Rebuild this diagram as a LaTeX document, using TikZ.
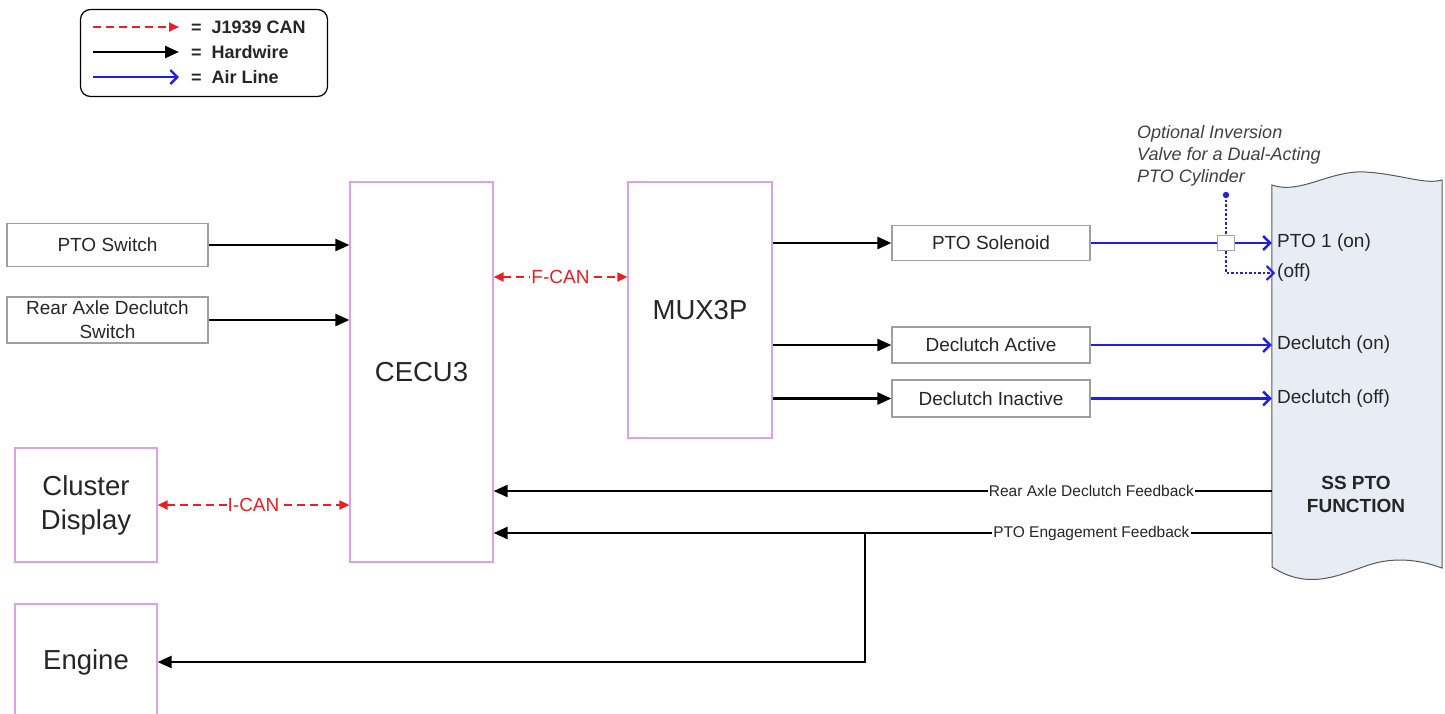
\documentclass[tikz,border=0pt]{standalone}
\usepackage{fontspec}
\setmainfont{Liberation Sans}
\usetikzlibrary{arrows.meta,positioning,calc}
\definecolor{ecuedge}{RGB}{222,160,230}
\definecolor{canred}{RGB}{235,30,35}
\definecolor{airblue}{RGB}{30,30,230}
\definecolor{ptofill}{RGB}{232,236,244}

\begin{document}
\begin{tikzpicture}[x=1pt, y=-1pt,
  every node/.style={align=center, font=\fontsize{19}{24}\selectfont, text=black!85},
  ecu/.style={draw=ecuedge, line width=1.2pt, inner sep=0pt, font=\fontsize{27.5}{34}\selectfont},
  part/.style={draw=gray!75, line width=1.2pt, inner sep=0pt},
  wire/.style={-{Triangle[length=14pt,width=12pt]}, line width=2.4pt, black},
  can/.style={>={Triangle[length=10pt,width=9pt]}, dash pattern=on 8pt off 5pt, line width=1.8pt, canred},
  air/.style={-{Straight Barb[length=7pt,width=14pt]}, line width=2.4pt, airblue},
  fb/.style={fill=white, inner sep=1pt, font=\fontsize{15.5}{18}\selectfont}]
  \useasboundingbox (0,0) rectangle (1445,713);

  % legend
  \node[draw, rounded corners=10pt, line width=1.2pt, minimum width=247pt, minimum height=87pt] (legend) at (204,53) {};
  \node[anchor=west, inner sep=0, font=\fontsize{18}{22}\selectfont\bfseries] (lgcan) at (191,27) {=\ \ J1939 CAN};
  \node[anchor=west, inner sep=0, font=\fontsize{18}{22}\selectfont\bfseries] (lgwire) at (191,52) {=\ \ Hardwire};
  \node[anchor=west, inner sep=0, font=\fontsize{18}{22}\selectfont\bfseries] (lgair) at (191,77) {=\ \ Air Line};
  \coordinate (lgcan0) at (93,27);
  \coordinate (lgwire0) at (93,52);
  \coordinate (lgair0) at (93,77);
  \draw[can, ->] (lgcan0) -- ([xshift=-12pt]lgcan.west);
  \draw[wire] (lgwire0) -- ([xshift=-12pt]lgwire.west);
  \draw[air] (lgair0) -- ([xshift=-12pt]lgair.west);

  % controllers
  \node[ecu, minimum width=143pt, minimum height=380pt] (cecu) at (421.5,372) {CECU3};
  \node[ecu, minimum width=144pt, minimum height=256pt] (mux) at (700,310) {MUX3P};
  \node[ecu, minimum width=142pt, minimum height=114pt] (cluster) at (86,505) {Cluster\\Display};
  \node[ecu, minimum width=142pt, minimum height=116pt] (engine) at (86,662) {Engine};

  % switches and outputs
  \node[part, minimum width=201pt, minimum height=43pt] (ptosw) at (107.5,245) {PTO Switch};
  \node[part, minimum width=201pt, minimum height=46pt] (rearsw) at (107.5,320) {Rear Axle Declutch\\Switch};
  \node[part, minimum width=198pt, minimum height=35pt] (sol) at (991,243) {PTO Solenoid};
  \node[part, minimum width=198pt, minimum height=36pt] (dact) at (991,345) {Declutch Active};
  \node[part, minimum width=198pt, minimum height=37pt] (dinact) at (991,398.5) {Declutch Inactive};

  % SS PTO function
  \node[minimum width=170pt, minimum height=382pt, inner sep=0] (sspto) at (1357,376) {};
  \draw[fill=ptofill, draw=gray!70!black, line width=1pt]
    (sspto.west |- 0,185) .. controls (1300,195) and (1330,170) .. (1365,172)
    .. controls (1400,174) and (1425,185) .. (1442,180) -- (1442,568)
    .. controls (1420,560) and (1400,558) .. (1380,562)
    .. controls (1350,568) and (1315,595) .. (1272,567) -- cycle;
  \node[font=\fontsize{19}{23}\selectfont\bfseries] (sslabel) at (1356,494) {SS PTO\\FUNCTION};
  \node[anchor=west, inner sep=2pt] (on1) at (1275,243) {PTO 1 (on)};
  \node[anchor=west, inner sep=2pt] (off1) at (1275,273) {(off)};
  \node[anchor=west, inner sep=2pt] (don) at (1275,345) {Declutch (on)};
  \node[anchor=west, inner sep=2pt] (doff) at (1275,398.5) {Declutch (off)};

  % inversion valve
  \node[draw=gray!70, fill=white, line width=1pt, minimum width=17pt, minimum height=15pt, inner sep=0] (valve) at (1226,243) {};
  \coordinate (valvetop) at (1226,195);
  \node[anchor=north west, inner sep=0, align=left, text=black!75, font=\fontsize{18}{22}\selectfont\itshape] (optnote) at (1137,125)
    {Optional Inversion\\Valve for a Dual-Acting\\PTO Cylinder};

  % hardwire inputs and outputs
  \draw[wire] (ptosw.east) -- (ptosw.east -| cecu.west);
  \draw[wire] (rearsw.east) -- (rearsw.east -| cecu.west);
  \draw[wire] (mux.east |- sol) -- (sol.west);
  \draw[wire] (mux.east |- dact) -- (dact.west);
  \draw[wire] (mux.east |- dinact) -- (dinact.west);

  % CAN links
  \draw[can, <->] (cecu.east |- 0,277) -- node[fill=white, inner sep=1pt, text=canred] {F-CAN} (mux.west |- 0,277);
  \draw[can, <->] (cluster.east) -- node[fill=white, inner sep=1pt, text=canred] {I-CAN} (cluster.east -| cecu.west);

  % air lines
  \draw[airblue, line width=2.4pt] (sol.east) -- (sol.east -| valve.west);
  \draw[air] (valve.east) -- (valve.east -| sspto.west);
  \draw[air] (dact.east) -- (dact.east -| sspto.west);
  \draw[air] (dinact.east) -- (dinact.east -| sspto.west);
  \draw[airblue, line width=2pt, dash pattern=on 2.5pt off 2pt] (valvetop) -- (valve.north);
  \fill[airblue] (valvetop) circle (3.2pt);
  \draw[air, dash pattern=on 2.5pt off 2pt, line width=2pt] (valve.south) |- (off1.west);

  % feedback
  \coordinate (fbrear) at (1272,491);
  \coordinate (fbpto) at (1272,533);
  \coordinate (fbsplit) at (865,533);
  \draw[wire] (fbrear) -- node[fb, pos=0.232] {Rear Axle Declutch Feedback} (fbrear -| cecu.east);
  \draw[wire] (fbpto) -- node[fb, pos=0.232] {PTO Engagement Feedback} (fbpto -| cecu.east);
  \draw[wire] (fbsplit) |- (engine.east);
\end{tikzpicture}
\end{document}
